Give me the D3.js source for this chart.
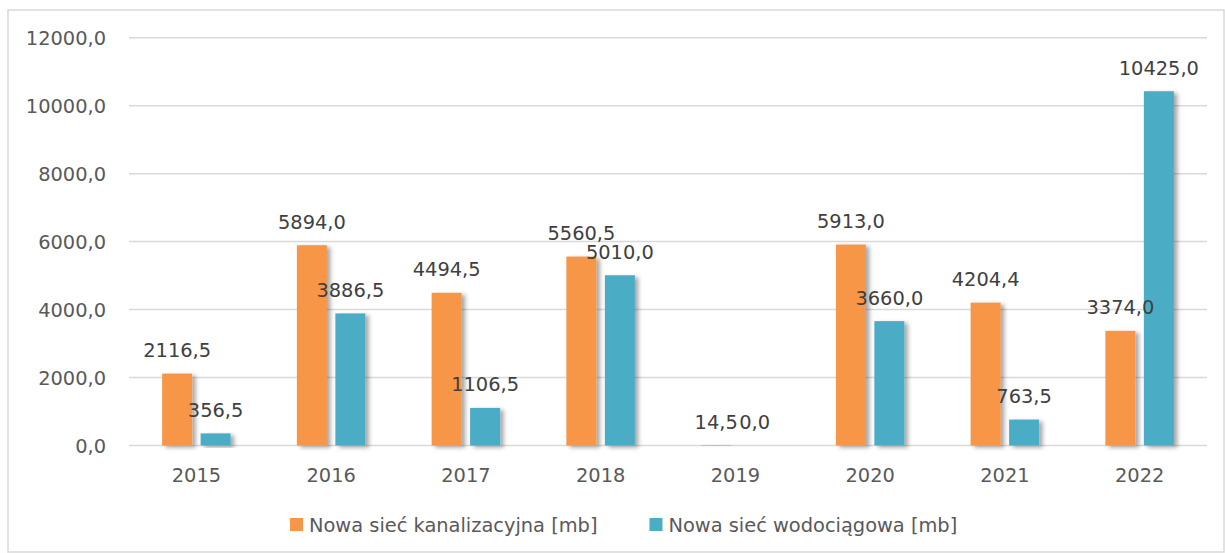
<!DOCTYPE html>
<html>
<head>
<meta charset="utf-8">
<script src="https://cdn.jsdelivr.net/npm/d3@7"></script>
<style>
  html, body { margin: 0; padding: 0; background: #fff; }
  svg { display: block; font-family: "DejaVu Sans", sans-serif; }
</style>
</head>
<body>
<svg id="chart" width="1225" height="553"></svg>
<script>
const years = ["2015", "2016", "2017", "2018", "2019", "2020", "2021", "2022"];
const seriesNames = ["Nowa sieć kanalizacyjna [mb]", "Nowa sieć wodociągowa [mb]"];
const kanalizacja = [2116.5, 5894.0, 4494.5, 5560.5, 14.5, 5913.0, 4204.4, 3374.0];
const wodociagi = [356.5, 3886.5, 1106.5, 5010.0, 0.0, 3660.0, 763.5, 10425.0];
const yTicks = [0, 2000, 4000, 6000, 8000, 10000, 12000];
const colors = ["#F79646", "#4BACC6"];

const svg = d3.select("#chart");
const plot = { left: 129, right: 1207, top: 37.7, bottom: 445.5 };
const textColor = "#595959";
const fontSize = 19.4;

// shadow filter
const defs = svg.append("defs");
const f = defs.append("filter").attr("id", "shadow")
  .attr("x", "-30%").attr("y", "-10%").attr("width", "160%").attr("height", "130%");
f.append("feDropShadow").attr("dx", 3.5).attr("dy", 2).attr("stdDeviation", 2)
  .attr("flood-color", "#000").attr("flood-opacity", 0.35);

// outer border
svg.append("rect").attr("x", 8).attr("y", 10).attr("width", 1216).attr("height", 542)
  .attr("fill", "#fff").attr("stroke", "#D9D9D9").attr("stroke-width", 1.5);

const fmt = v => d3.format(".1f")(v).replace(".", ",");

const y = d3.scaleLinear().domain([0, 12000]).range([plot.bottom, plot.top]);
const x0 = d3.scaleBand().domain(years).range([plot.left, plot.right])
  .paddingInner(0.4917).paddingOuter(0.4917 / 2);
const x1 = d3.scaleBand().domain(seriesNames).range([0, x0.bandwidth()]).paddingInner(0.22);

// gridlines
svg.append("g").selectAll("line").data(yTicks).join("line")
  .attr("x1", plot.left).attr("x2", plot.right)
  .attr("y1", d => y(d)).attr("y2", d => y(d))
  .attr("stroke", "#D9D9D9").attr("stroke-width", 1.5);

// y axis labels
const yAxis = d3.axisLeft(y).tickValues(yTicks).tickFormat(fmt).tickSize(0).tickPadding(0);
const gy = svg.append("g").attr("transform", `translate(${plot.left - 23},0)`).call(yAxis);
gy.select(".domain").remove();
gy.selectAll("text").attr("fill", textColor).attr("font-size", fontSize)
  .attr("font-family", "DejaVu Sans").attr("dy", "0.36em");

// x axis labels
const xAxis = d3.axisBottom(x0).tickSize(0).tickPadding(0);
const gx = svg.append("g").attr("transform", `translate(0,${plot.bottom + 36})`).call(xAxis);
gx.select(".domain").remove();
gx.selectAll("text").attr("fill", textColor).attr("font-size", fontSize)
  .attr("font-family", "DejaVu Sans").attr("dy", 0);

const data = years.map((yr, i) => ({ year: yr, values: [kanalizacja[i], wodociagi[i]] }));

const groups = svg.append("g").selectAll("g").data(data).join("g")
  .attr("transform", d => `translate(${x0(d.year)},0)`);

groups.selectAll("rect").data(d => d.values.map((v, j) => ({ key: seriesNames[j], v, j })))
  .join("rect")
  .attr("x", d => x1(d.key))
  .attr("y", d => y(d.v))
  .attr("width", x1.bandwidth())
  .attr("height", d => y(0) - y(d.v))
  .attr("fill", d => colors[d.j])
  .attr("filter", "url(#shadow)");

groups.selectAll("text").data(d => d.values.map((v, j) => ({ key: seriesNames[j], v, j })))
  .join("text")
  .attr("x", d => x1(d.key) + x1.bandwidth() / 2)
  .attr("y", d => y(d.v) - 16.5)
  .attr("text-anchor", "middle")
  .attr("fill", "#404040")
  .attr("font-size", fontSize)
  .text(d => fmt(d.v));

// legend
const legend = svg.append("g");
let lx = 290;
seriesNames.forEach((name, i) => {
  legend.append("rect").attr("x", lx).attr("y", 518).attr("width", 13).attr("height", 13)
    .attr("fill", colors[i]);
  const t = legend.append("text").attr("x", lx + 19).attr("y", 531.5)
    .attr("fill", textColor).attr("font-size", fontSize).text(name);
  const w = t.node().getComputedTextLength();
  lx = lx + 19 + w + 52;
});
</script>
</body>
</html>
